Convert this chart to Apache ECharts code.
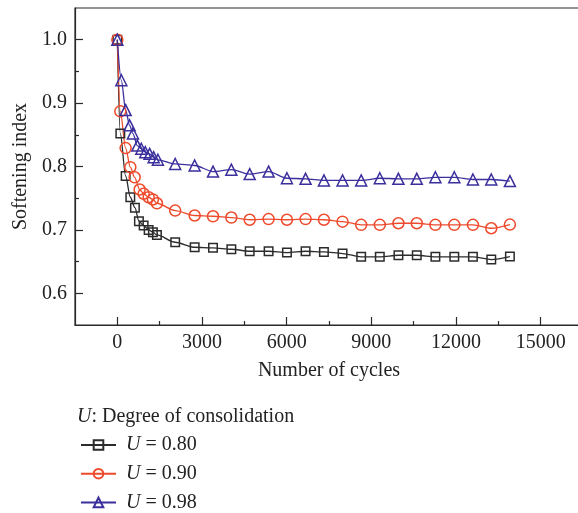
<!DOCTYPE html>
<html>
<head>
<meta charset="utf-8">
<script src="https://cdn.jsdelivr.net/npm/echarts@6/dist/echarts.min.js"></script>
<style>html,body{margin:0;padding:0;background:#fff}#c{width:578px;height:513px}</style>
</head>
<body>
<div id="c"></div>
<script>
// ---- data ----
var cycles80 = [0, 106, 294, 460, 623, 765, 932, 1109, 1261, 1403, 2050, 2740, 3390, 4040, 4690, 5360, 6010, 6670, 7320, 7980, 8640, 9300, 9960, 10610, 11270, 11940, 12600, 13250, 13910];
var index80  = [1.0, 0.852, 0.785, 0.7515, 0.735, 0.7137, 0.7069, 0.700, 0.6963, 0.692, 0.6805, 0.6726, 0.6717, 0.6695, 0.6663, 0.6663, 0.6642, 0.6663, 0.6653, 0.6627, 0.6575, 0.6575, 0.660, 0.660, 0.6575, 0.6575, 0.6575, 0.6532, 0.658];

var cycles90 = [0, 106, 294, 460, 613, 790, 932, 1109, 1261, 1403, 2050, 2740, 3390, 4040, 4690, 5360, 6010, 6670, 7320, 7980, 8640, 9300, 9960, 10610, 11270, 11940, 12600, 13250, 13910];
var index90  = [1.0, 0.887, 0.829, 0.799, 0.783, 0.7637, 0.757, 0.7515, 0.748, 0.742, 0.7305, 0.7227, 0.7215, 0.7195, 0.716, 0.717, 0.716, 0.717, 0.716, 0.713, 0.708, 0.708, 0.7105, 0.7105, 0.708, 0.708, 0.708, 0.7026, 0.7084];

var cycles98 = [0, 142, 294, 435, 553, 708, 850, 990, 1144, 1286, 1438, 2050, 2740, 3390, 4040, 4690, 5360, 6010, 6670, 7320, 7980, 8640, 9300, 9960, 10610, 11270, 11940, 12600, 13250, 13910];
var index98  = [1.0, 0.936, 0.889, 0.865, 0.852, 0.833, 0.828, 0.8226, 0.820, 0.8147, 0.8106, 0.804, 0.8016, 0.792, 0.795, 0.788, 0.792, 0.7815, 0.7806, 0.778, 0.778, 0.778, 0.7815, 0.7806, 0.7806, 0.783, 0.783, 0.7795, 0.7795, 0.777];

var seriesNames = ['U = 0.80', 'U = 0.90', 'U = 0.98'];
var xMajorTicks = [0, 3000, 6000, 9000, 12000, 15000];
var xMinorTicks = [1500, 4500, 7500, 10500, 13500];
var yMajorTicks = [0.6, 0.7, 0.8, 0.9, 1.0];
var yMinorTicks = [0.65, 0.75, 0.85, 0.95];

function zip(xs, ys) { return xs.map(function (x, i) { return [x, ys[i]]; }); }

var FONT = 'Liberation Serif';
var FS = 20;
var AX = '#2a2a2a';
var TX = '#222';
var colors = ['#2b2b2b', '#ee4a2c', '#3a2f9c'];
var symbols = ['rect', 'circle', 'triangle'];
var sizes = [8.5, 11, 11];
var datas = [zip(cycles80, index80), zip(cycles90, index90), zip(cycles98, index98)];

var series = seriesNames.map(function (n, i) {
  return {
    name: n, type: 'line', xAxisIndex: 0, yAxisIndex: 0,
    data: datas[i],
    smooth: 0.3, smoothMonotone: 'x',
    symbol: symbols[i], symbolSize: sizes[i], showAllSymbol: true,
    lineStyle: { color: colors[i], width: 1.3 },
    itemStyle: { color: 'rgba(255,255,255,0)', borderColor: colors[i], borderWidth: 1.5 },
    emphasis: { disabled: true },
    animation: false
  };
});

var chart = echarts.init(document.getElementById('c'), null, { renderer: 'canvas' });
chart.setOption({
  animation: false,
  backgroundColor: '#fff',
  textStyle: { fontFamily: FONT },
  grid: { left: 75, top: 8, width: 508, height: 317, show: true, borderColor: AX, borderWidth: 1.2,
    containLabel: false, outerBoundsMode: 'none' },
  title: {
    text: '{i|U}: Degree of consolidation',
    left: 72, top: 402,
    textStyle: { fontFamily: FONT, fontSize: FS, fontWeight: 'normal', color: TX,
      rich: { i: { fontFamily: FONT, fontSize: FS, fontStyle: 'italic', color: TX } } }
  },
  legend: {
    orient: 'vertical', left: 75, top: 430, height: 110,
    itemWidth: 35, itemHeight: 12, itemGap: 8.7,
    data: seriesNames,
    formatter: function (name) { return '{i|U}' + name.slice(1); },
    textStyle: { fontFamily: FONT, fontSize: FS, color: TX, lineHeight: 20, padding: [0, 0, 0, 5],
      rich: { i: { fontFamily: FONT, fontSize: FS, fontStyle: 'italic', color: TX, lineHeight: 20 } } }
  },
  xAxis: [{
    type: 'value', min: -1500, max: 16500, position: 'bottom',
    name: 'Number of cycles', nameLocation: 'middle', nameGap: 36,
    nameTextStyle: { fontFamily: FONT, fontSize: FS, color: TX },
    axisLine: { show: true, onZero: false, lineStyle: { color: AX, width: 1.2 } },
    axisTick: { show: true, inside: true, length: 8, customValues: xMajorTicks, lineStyle: { color: AX, width: 1.2 } },
    axisLabel: { show: true, customValues: xMajorTicks, margin: 8, fontFamily: FONT, fontSize: FS, color: TX,
      formatter: function (v) { return String(v); } },
    splitLine: { show: false }
  }, {
    type: 'value', min: -1500, max: 16500, position: 'bottom',
    axisLine: { show: false, onZero: false },
    axisTick: { show: true, inside: true, length: 4, customValues: xMinorTicks, lineStyle: { color: AX, width: 1.2 } },
    axisLabel: { show: false },
    splitLine: { show: false }
  }],
  yAxis: [{
    type: 'value', min: 0.55, max: 1.05, position: 'left',
    name: 'Softening index', nameLocation: 'middle', nameGap: 42,
    nameTextStyle: { fontFamily: FONT, fontSize: FS, color: TX },
    axisLine: { show: true, onZero: false, lineStyle: { color: AX, width: 1.2 } },
    axisTick: { show: true, inside: true, length: 8, customValues: yMajorTicks, lineStyle: { color: AX, width: 1.2 } },
    axisLabel: { show: true, customValues: yMajorTicks, margin: 8, fontFamily: FONT, fontSize: FS, color: TX,
      formatter: function (v) { return v.toFixed(1); } },
    splitLine: { show: false }
  }, {
    type: 'value', min: 0.55, max: 1.05, position: 'left',
    axisLine: { show: false, onZero: false },
    axisTick: { show: true, inside: true, length: 4, customValues: yMinorTicks, lineStyle: { color: AX, width: 1.2 } },
    axisLabel: { show: false },
    splitLine: { show: false }
  }],
  series: series
});
</script>
</body>
</html>
